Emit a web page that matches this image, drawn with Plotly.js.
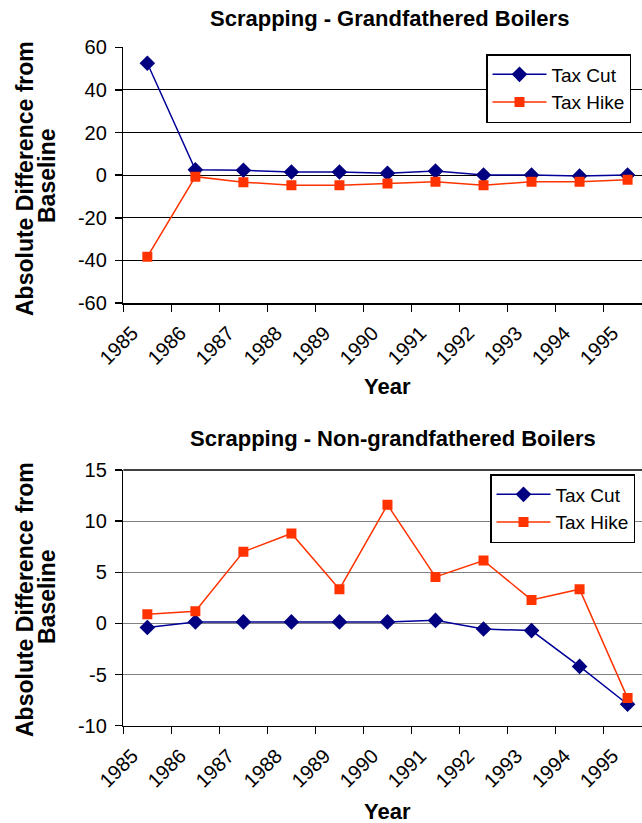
<!DOCTYPE html>
<html>
<head>
<meta charset="utf-8">
<script src="https://cdn.plot.ly/plotly-3.0.1.min.js"></script>
<style>html,body{margin:0;padding:0;background:#fff;}#chart{width:642px;height:823px;}</style>
</head>
<body>
<div id="chart"></div>
<script>
// Data
const years = ['1985','1986','1987','1988','1989','1990','1991','1992','1993','1994','1995'];
const seriesNames = ['Tax Cut', 'Tax Hike'];
// Scrapping - Grandfathered Boilers
const taxCutGF  = [52.5, 2.5, 2.3, 1.5, 1.5, 0.9, 1.9, 0.1, 0.1, -0.4, 0.1];
const taxHikeGF = [-38.3, -0.7, -3.3, -4.7, -4.7, -3.9, -3.1, -4.7, -3.1, -3.1, -2.2];
// Scrapping - Non-grandfathered Boilers
const taxCutNGF  = [-0.4, 0.15, 0.15, 0.15, 0.15, 0.15, 0.3, -0.55, -0.7, -4.2, -7.9];
const taxHikeNGF = [0.9, 1.2, 7.0, 8.8, 3.35, 11.6, 4.55, 6.15, 2.3, 3.35, -7.3];
// Y tick values and labels (hyphen minus as in the reference)
const yTicksGF = [-60, -40, -20, 0, 20, 40, 60];
const yTickTextGF = ['-60', '-40', '-20', '0', '20', '40', '60'];
const yTicksNGF = [-10, -5, 0, 5, 10, 15];
const yTickTextNGF = ['-10', '-5', '0', '5', '10', '15'];
const titles = ['Scrapping - Grandfathered Boilers', 'Scrapping - Non-grandfathered Boilers'];
const yTitle1 = 'Absolute Difference from';
const yTitle2 = 'Baseline';
const xTitle = 'Year';

const FONT = '"Liberation Sans", Arial, sans-serif';
const cutStyle = {line:{color:'#000099', width:1.5}, marker:{symbol:'diamond', size:12, color:'#000080'}};
const hikeStyle = {line:{color:'#FF3300', width:1.5}, marker:{symbol:'square', size:10, color:'#FF3300'}};

const traces = [
  Object.assign({x:years, y:taxCutGF, name:seriesNames[0], mode:'lines+markers', xaxis:'x', yaxis:'y', legend:'legend'}, cutStyle),
  Object.assign({x:years, y:taxHikeGF, name:seriesNames[1], mode:'lines+markers', xaxis:'x', yaxis:'y', legend:'legend'}, hikeStyle),
  Object.assign({x:years, y:taxCutNGF, name:seriesNames[0], mode:'lines+markers', xaxis:'x2', yaxis:'y2', legend:'legend2'}, cutStyle),
  Object.assign({x:years, y:taxHikeNGF, name:seriesNames[1], mode:'lines+markers', xaxis:'x2', yaxis:'y2', legend:'legend2'}, hikeStyle)
];

function xAxis(anchor) {
  return {
    type:'category', anchor:anchor, domain:[0.1921, 1], range:[-0.5, 10.3],
    tickson:'boundaries', ticks:'outside', ticklen:7, tickcolor:'#000', tickwidth:1.5,
    tickangle:-45, ticklabelshift:-15, ticklabelstandoff:9,
    showline:true, linecolor:'#000', linewidth:1.5, showgrid:false, zeroline:false,
    tickfont:{family:FONT, size:20, color:'#000'}, fixedrange:true
  };
}
function yAxis(anchor, domain, range, vals, text, grid) {
  return {
    anchor:anchor, domain:domain, range:range, tickmode:'array', tickvals:vals, ticktext:text,
    ticks:'outside', ticklen:7, tickcolor:'#000', tickwidth:1.5, ticklabelstandoff:4,
    showline:true, linecolor:'#000', linewidth:1.5,
    showgrid:true, gridcolor:grid, gridwidth:1, zeroline:false,
    tickfont:{family:FONT, size:20, color:'#000'}, fixedrange:true
  };
}

const ann = [];
function addText(text, x, y, angle, size) {
  ann.push({text:'<b>'+text+'</b>', xref:'paper', yref:'paper', x:x/642, y:1-y/823,
    xanchor:'center', yanchor:'middle', showarrow:false, textangle:angle||0,
    font:{family:FONT, size:size||22, color:'#000'}});
}
addText(titles[0], 389, 18);
addText(titles[1], 393, 438);
addText(yTitle1, 25, 179, -90, 23);
addText(yTitle2, 47, 175, -90, 23);
addText(yTitle1, 25, 600, -90, 23);
addText(yTitle2, 47, 596, -90, 23);
addText(xTitle, 387, 386);
addText(xTitle, 387, 811);

const legendBase = {xanchor:'left', yanchor:'top', bgcolor:'#fff', bordercolor:'#000', borderwidth:1.5,
  font:{family:FONT, size:19, color:'#000'}, tracegroupgap:0, itemwidth:54};

const layout = {
  width:642, height:823, margin:{l:0, r:0, t:0, b:0},
  paper_bgcolor:'#fff', plot_bgcolor:'#fff',
  font:{family:FONT, color:'#000'},
  xaxis:xAxis('y'), yaxis:yAxis('x', [0.6318, 0.9425], [-60, 60], yTicksGF, yTickTextGF, '#000'),
  xaxis2:xAxis('y2'), yaxis2:yAxis('x2', [0.1182, 0.4289], [-10, 15], yTicksNGF, yTickTextNGF, '#808080'),
  legend:Object.assign({x:486/642, y:1-54/823}, legendBase),
  legend2:Object.assign({x:490/642, y:1-474/823}, legendBase),
  shapes:[{type:'line', xref:'x2 domain', yref:'y2 domain', x0:0, x1:1, y0:1, y1:1, line:{color:'#000', width:1.5}}],
  annotations:ann,
  showlegend:true
};

Plotly.newPlot('chart', traces, layout, {displayModeBar:false, staticPlot:true});
</script>
</body>
</html>
